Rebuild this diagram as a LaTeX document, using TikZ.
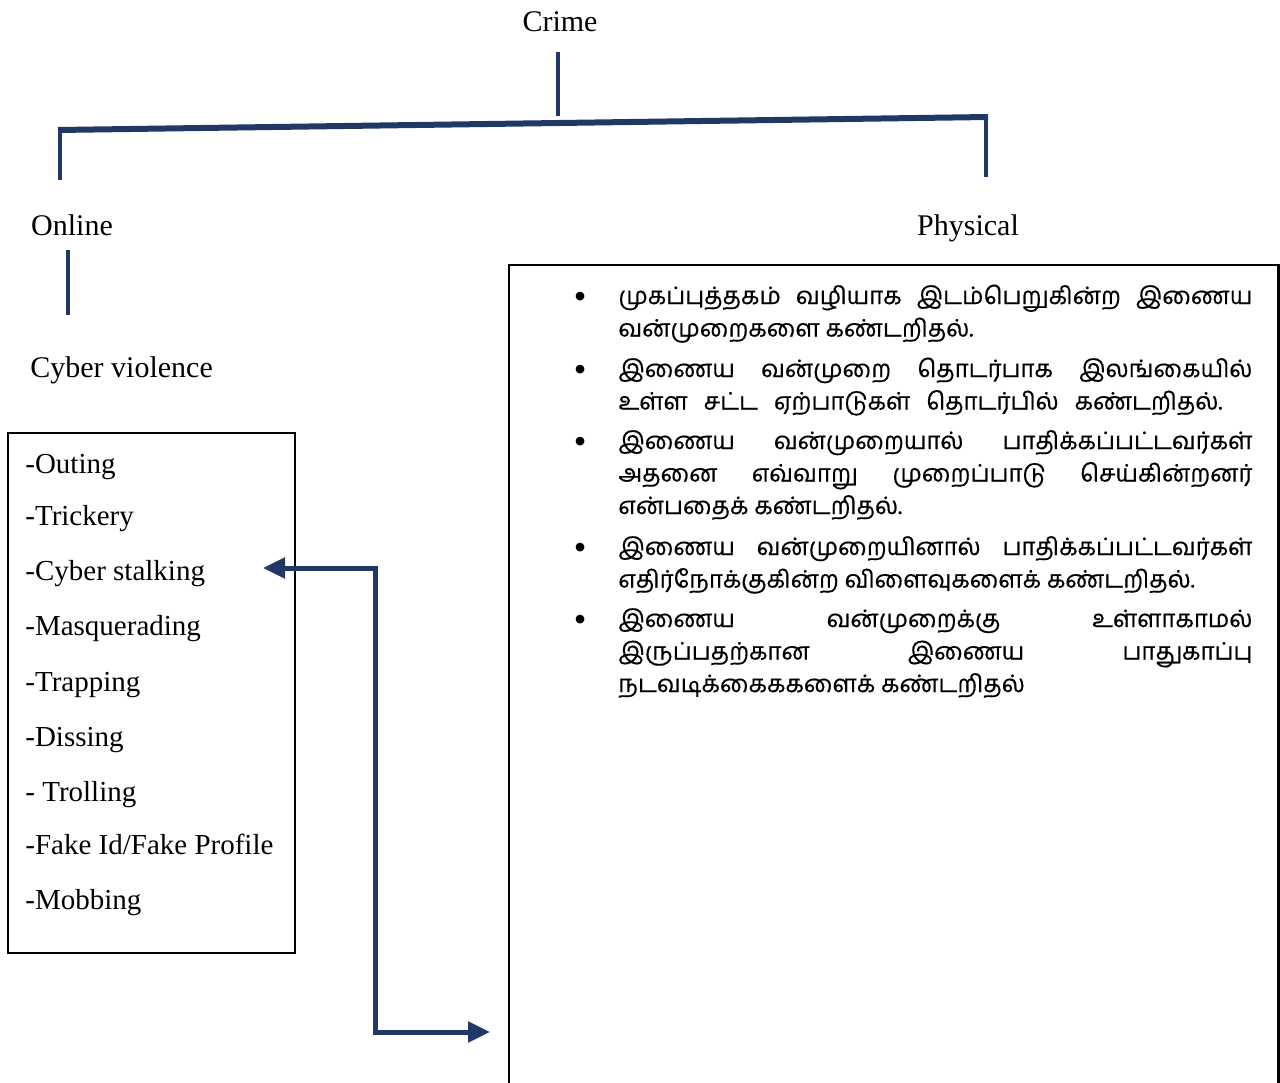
\documentclass[tikz,border=0pt]{standalone}
\usepackage{fontspec}
\setmainfont{Liberation Serif}
\newfontfamily\tamil[Script=Tamil, FakeBold=0.5]{Hind Madurai}
\usetikzlibrary{arrows.meta}
\definecolor{navy}{RGB}{32,56,100}
\newcommand\tjust[1]{\makebox[317pt][s]{#1}\\}
\newcommand\tbul{\setlength{\lineskiplimit}{-20pt}\leavevmode\llap{\raisebox{-2pt}{\fontsize{18pt}{18pt}\rmfamily\textbullet}\hspace{16pt}}}
\begin{document}
\begin{tikzpicture}[x=0.5pt,y=-0.5pt,
  lbl/.style={font=\fontsize{15pt}{18pt}\selectfont, inner sep=0, anchor=base},
  itm/.style={font=\fontsize{14.5pt}{17pt}\selectfont, inner sep=0, anchor=base west},
  titem/.style={font=\tamil\fontsize{12pt}{16.25pt}\selectfont, inner sep=0, anchor=base west},
  tline/.style={draw=navy, line width=2pt},
  bar/.style={draw=navy, line width=3pt},
  conn/.style={draw=navy, line width=2.5pt, {Triangle[length=11pt,width=10pt]}-{Triangle[length=11pt,width=10pt]}}
]
\useasboundingbox (0,0) rectangle (1280,1082);
\fill[white] (0,0) rectangle (1280,1082);

% titles
\node[lbl] (crime) at (560,31) {Crime};
\node[lbl] (online) at (72,235) {Online};
\node[lbl] (physical) at (968,235) {Physical};
\node[lbl, anchor=base west] (cyber) at (30,377) {Cyber violence};

% tree connectors
\coordinate (crTop) at (558,52);
\coordinate (crBot) at (558,116);
\coordinate (barL) at (58,130);
\coordinate (barR) at (988,117);
\coordinate (onTop) at (60,129);
\coordinate (onBot) at (60,180);
\coordinate (phTop) at (986,117);
\coordinate (phBot) at (986,177);
\coordinate (cvTop) at (68,250);
\coordinate (cvBot) at (68,315);
\draw[tline] (crTop) -- (crBot);
\draw[bar] (barL) -- (barR);
\draw[tline] (onTop) -- (onBot);
\draw[tline] (phTop) -- (phBot);
\draw[tline] (cvTop) -- (cvBot);

% list box
\node[draw, line width=0.8pt, anchor=north west, minimum width=143.5pt, minimum height=260pt, inner sep=0] (listbox) at (7,432) {};
\node[itm] (i1) at (25,473) {-Outing};
\node[itm] (i2) at (25,525) {-Trickery};
\node[itm] (i3) at (25,580) {-Cyber stalking};
\node[itm] (i4) at (25,635) {-Masquerading};
\node[itm] (i5) at (25,691) {-Trapping};
\node[itm] (i6) at (25,746) {-Dissing};
\node[itm] (i7) at (25,801) {- Trolling};
\node[itm] (i8) at (25,854) {-Fake Id/Fake Profile};
\node[itm] (i9) at (25,909) {-Mobbing};

% right box
\node[draw, line width=1pt, anchor=north west, minimum width=384.5pt, minimum height=420pt, inner sep=0] (tbox) at (508,264) {};
\draw[line width=1.6pt] (tbox.north east) -- (tbox.south east);

\node[titem] (t1) at (618,304) {\parbox[t]{317pt}{\tbul\tjust{முகப்புத்தகம் வழியாக இடம்பெறுகின்ற இணைய}வன்முறைகளை கண்டறிதல்.}};
\node[titem] (t2) at (618,377) {\parbox[t]{317pt}{\tbul\tjust{இணைய வன்முறை தொடர்பாக இலங்கையில்}\makebox[302pt][s]{உள்ள சட்ட ஏற்பாடுகள் தொடர்பில் கண்டறிதல்.}}};
\node[titem] (t3) at (618,449) {\parbox[t]{317pt}{\tbul\tjust{இணைய வன்முறையால் பாதிக்கப்பட்டவர்கள்}\tjust{அதனை எவ்வாறு முறைப்பாடு செய்கின்றனர்}என்பதைக் கண்டறிதல்.}};
\node[titem] (t4) at (618,555) {\parbox[t]{317pt}{\tbul\tjust{இணைய வன்முறையினால் பாதிக்கப்பட்டவர்கள்}எதிர்நோக்குகின்ற விளைவுகளைக் கண்டறிதல்.}};
\node[titem] (t5) at (618,627) {\parbox[t]{317pt}{\tbul\tjust{இணைய வன்முறைக்கு உள்ளாகாமல்}\tjust{இருப்பதற்கான இணைய பாதுகாப்பு}நடவடிக்கைககளைக் கண்டறிதல்}};

% arrow
\coordinate (arrL) at (263,568);
\coordinate (arrC) at (375,1032);
\coordinate (arrR) at (490,1032);
\draw[conn] (arrL) -| (arrC) -- (arrR);
\end{tikzpicture}
\end{document}
